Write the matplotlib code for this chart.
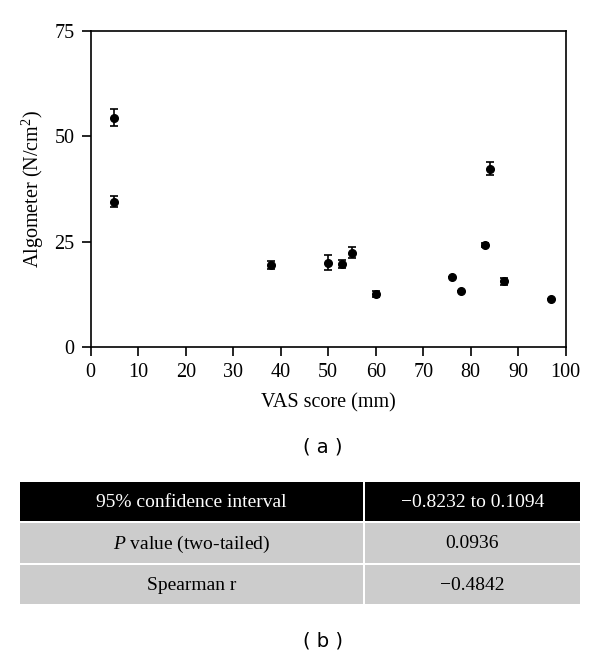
import numpy as np
import matplotlib.pyplot as plt
from matplotlib.patches import Rectangle

# VAS score (mm) vs algometer (N/cm2), mean +- error
vas = [5, 5, 38, 50, 53, 55, 60, 76, 78, 83, 84, 87, 97]
algo = [54.4, 34.5, 19.4, 20.0, 19.7, 22.4, 12.6, 16.7, 13.3, 24.2, 42.3, 15.6, 11.4]
err = [2.0, 1.4, 1.0, 1.8, 0.9, 1.3, 0.7, 0.0, 0.0, 0.4, 1.5, 0.8, 0.0]

stat_names = ["95% confidence interval", "$P$ value (two-tailed)", "Spearman r"]
stat_values = ["\u22120.8232 to 0.1094", "0.0936", "\u22120.4842"]

plt.rcParams['font.family'] = ['Liberation Serif', 'DejaVu Serif']
plt.rcParams['mathtext.fontset'] = 'custom'
plt.rcParams['mathtext.rm'] = 'Liberation Serif'
plt.rcParams['mathtext.it'] = 'Liberation Serif:italic'

W, H = 600, 657
fig = plt.figure(figsize=(W / 100, H / 100), dpi=100)

ax = fig.add_axes([90.7 / W, 1 - 347 / H, 475 / W, (347 - 30.7) / H])
ax.errorbar(vas, algo, yerr=err, fmt='o', color='black', ms=5.5,
            elinewidth=1.2, capsize=3, capthick=1.2)
ax.set_xlim(0, 100)
ax.set_ylim(0, 75)
ax.set_xticks(np.arange(0, 101, 10))
ax.set_yticks([0, 25, 50, 75])
for s in ax.spines.values():
    s.set_linewidth(1.2)
ax.tick_params(direction='out', length=6.5, width=1.2, labelsize=14.5, pad=5)
ax.set_xlabel("VAS score (mm)", fontsize=14.5, labelpad=8)
ax.set_ylabel("Algometer (N/cm$^2$)", fontsize=14.5, labelpad=6)

# table part drawn in pixel coordinates
tb = fig.add_axes([0, 0, 1, 1])
tb.set_xlim(0, W)
tb.set_ylim(H, 0)
tb.axis('off')
tb.patch.set_alpha(0)

rows_y = [(482, 521), (523, 563), (565, 604)]
cols_x = [(20, 362.5), (364.5, 580)]
for i, (y0, y1) in enumerate(rows_y):
    fc = 'black' if i == 0 else '#cccccc'
    tc = 'white' if i == 0 else 'black'
    for j, (x0, x1) in enumerate(cols_x):
        tb.add_patch(Rectangle((x0, y0), x1 - x0, y1 - y0, facecolor=fc, edgecolor='none'))
        txt = stat_names[i] if j == 0 else stat_values[i]
        tb.text((x0 + x1) / 2, (y0 + y1) / 2 + 1, txt, ha='center', va='center',
                color=tc, fontsize=14)

tb.text(323, 447, "( a )", ha='center', va='center', fontsize=14, family='DejaVu Sans')
tb.text(323, 641, "( b )", ha='center', va='center', fontsize=14, family='DejaVu Sans')

fig.savefig("out.png", dpi=100)
